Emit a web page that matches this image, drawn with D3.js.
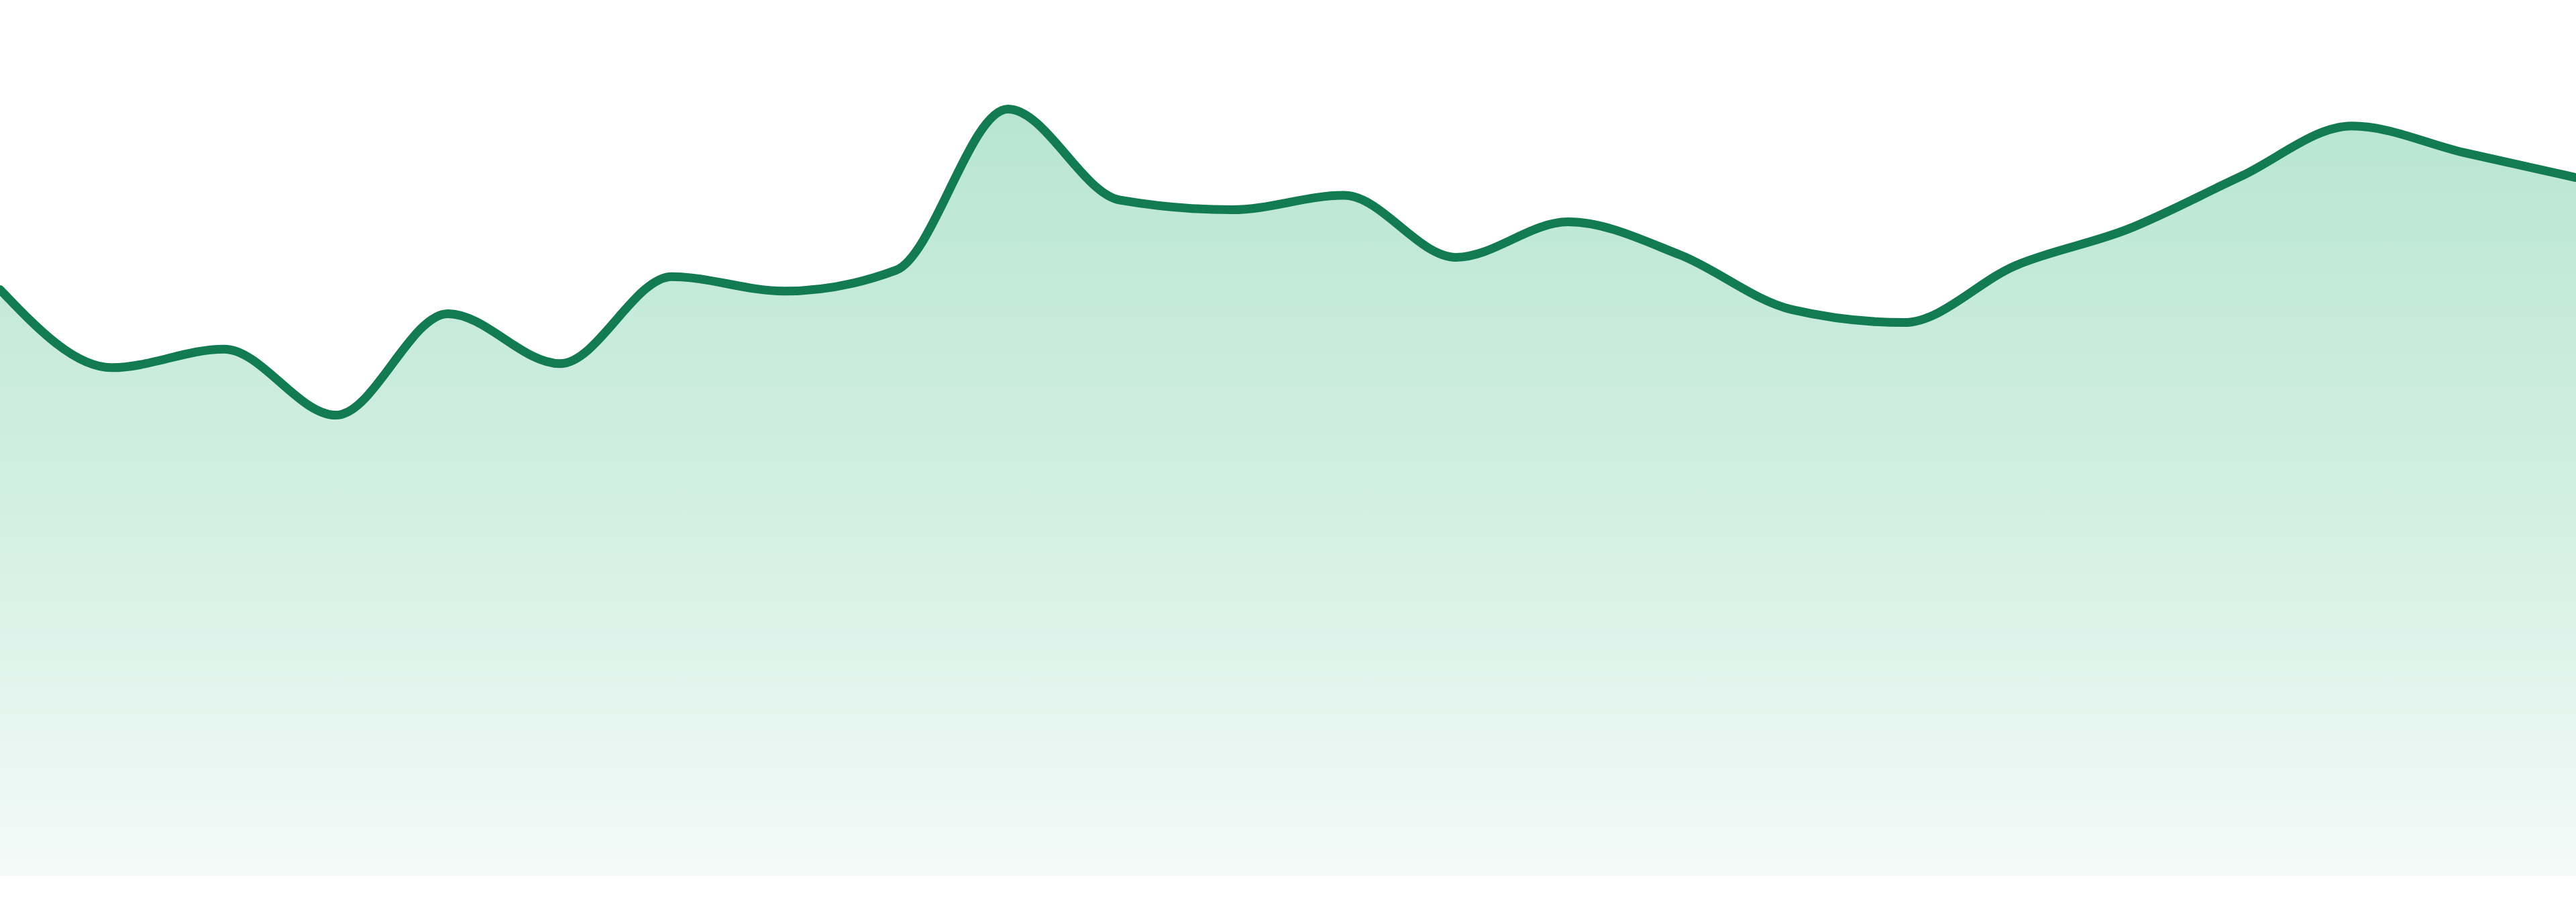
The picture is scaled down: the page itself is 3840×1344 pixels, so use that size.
<!DOCTYPE html>
<html>
<head>
<meta charset="utf-8">
<title>Area sparkline</title>
<script src="https://cdn.jsdelivr.net/npm/d3@7"></script>
<style>
  html, body { margin: 0; padding: 0; background: #ffffff; }
  #chart { width: 3840px; height: 1344px; }
</style>
</head>
<body>
<div id="chart"></div>
<script>
// series, one value per step
var labels = d3.range(1, 25);
var values = [
  72.8, 63.1, 65.4, 57.2, 69.8, 63.6, 74.4, 72.6, 75.2, 95.2, 83.9, 82.7,
  84.5, 76.8, 81.2, 77.1, 70.3, 68.7, 75.8, 80.3, 86.8, 93.1, 89.8, 86.7
];
var yDomain = [0, 100];

//Width and height
// (no global "top" here, it clashes with window.top)
var w = 3840;
var h = 1344;
var baseline = 1305;
var yTop = 105;

var data = labels.map(function(d, i) {
  return { label: d, value: values[i] };
});

var x = d3.scalePoint()
  .domain(labels)
  .range([0, w]);

var y = d3.scaleLinear()
  .domain(yDomain)
  .range([baseline, yTop]);

var svg = d3.select("#chart")
  .append("svg")
  .attr("width", w)
  .attr("height", h);

// soft green fade under the line
var grad = svg.append("defs")
  .append("linearGradient")
  .attr("id", "fade")
  .attr("gradientUnits", "userSpaceOnUse")
  .attr("x1", 0).attr("x2", 0)
  .attr("y1", y(d3.max(values))).attr("y2", baseline);

[[0, 0.31], [0.57, 0.18], [1, 0.05]].forEach(function(s) {
  grad.append("stop")
    .attr("offset", s[0])
    .attr("stop-color", "#19ac70")
    .attr("stop-opacity", s[1]);
});

var area = d3.area()
  .x(function(d) { return x(d.label); })
  .y0(y(0))
  .y1(function(d) { return y(d.value); })
  .curve(d3.curveMonotoneX);

var line = d3.line()
  .x(function(d) { return x(d.label); })
  .y(function(d) { return y(d.value); })
  .curve(d3.curveMonotoneX);

svg.append("path")
  .datum(data)
  .attr("d", area)
  .attr("fill", "url(#fade)");

svg.append("path")
  .datum(data)
  .attr("d", line)
  .attr("fill", "none")
  .attr("stroke", "#137b51")
  .attr("stroke-width", 13)
  .attr("stroke-linejoin", "round")
  .attr("stroke-linecap", "round");
</script>
</body>
</html>
